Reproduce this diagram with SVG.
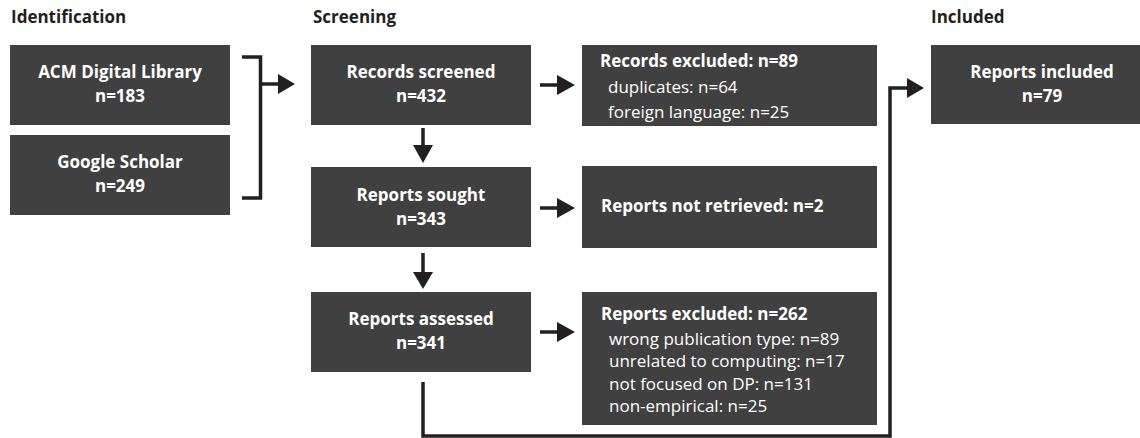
<svg xmlns="http://www.w3.org/2000/svg" width="1140" height="438" viewBox="0 0 1140 438">
<defs>
<style>
.box{fill:#404040}
.t{font-family:"Open Sans","Liberation Sans",sans-serif;font-size:17px;fill:#ffffff}
.b{font-weight:bold}
.c{text-anchor:middle}
.h{font-family:"Open Sans","Liberation Sans",sans-serif;font-size:17px;font-weight:bold;fill:#231f20}
.ln{fill:none;stroke:#231f20;stroke-width:3.5}
.ah{fill:#231f20}
</style>
</defs>
<g id="headers">
<text class="h" x="11" y="23">Identification</text>
<text class="h" x="313" y="23">Screening</text>
<text class="h" x="931" y="23">Included</text>
</g>
<g id="acm">
<rect class="box" x="10" y="45" width="220" height="80"/>
<text class="t b c" x="120" y="78">ACM Digital Library</text>
<text class="t b c" x="120" y="102">n=183</text>
</g>
<g id="scholar">
<rect class="box" x="10" y="135" width="220" height="80"/>
<text class="t b c" x="120" y="168">Google Scholar</text>
<text class="t b c" x="120" y="192">n=249</text>
</g>
<g id="screened">
<rect class="box" x="311" y="45" width="220" height="80"/>
<text class="t b c" x="421" y="78">Records screened</text>
<text class="t b c" x="421" y="102">n=432</text>
</g>
<g id="sought">
<rect class="box" x="311" y="167" width="220" height="80"/>
<text class="t b c" x="421" y="201">Reports sought</text>
<text class="t b c" x="421" y="225">n=343</text>
</g>
<g id="assessed">
<rect class="box" x="311" y="292" width="220" height="80"/>
<text class="t b c" x="421" y="325">Reports assessed</text>
<text class="t b c" x="421" y="349">n=341</text>
</g>
<g id="rec-excluded">
<rect class="box" x="582" y="45" width="295" height="81"/>
<text class="t b" x="600" y="67">Records excluded: n=89</text>
<text class="t" x="608" y="93">duplicates: n=64</text>
<text class="t" x="608" y="118">foreign language: n=25</text>
</g>
<g id="not-retrieved">
<rect class="box" x="582" y="166" width="295" height="82"/>
<text class="t b" x="601" y="212">Reports not retrieved: n=2</text>
</g>
<g id="rep-excluded">
<rect class="box" x="582" y="292" width="295" height="133"/>
<text class="t b" x="601" y="320">Reports excluded: n=262</text>
<text class="t" x="609" y="345">wrong publication type: n=89</text>
<text class="t" x="609" y="367">unrelated to computing: n=17</text>
<text class="t" x="609" y="390">not focused on DP: n=131</text>
<text class="t" x="609" y="412">non-empirical: n=25</text>
</g>
<g id="included">
<rect class="box" x="931" y="45" width="222" height="79"/>
<text class="t b c" x="1042" y="78">Reports included</text>
<text class="t b c" x="1042" y="102">n=79</text>
</g>
<g id="connectors">
<path class="ln" d="M242,57 H260.5 V198 H242"/>
<path class="ln" d="M260.5,84 H280"/>
<polygon class="ah" points="278,74 295,84 278,94"/>
<path class="ln" d="M540,85 H559"/>
<polygon class="ah" points="557,75 575,85 557,95"/>
<path class="ln" d="M540,208 H559"/>
<polygon class="ah" points="557,198 575,208 557,218"/>
<path class="ln" d="M540,332 H559"/>
<polygon class="ah" points="557,322 575,332 557,342"/>
<path class="ln" d="M423,128 V147"/>
<polygon class="ah" points="413,145 433,145 423,163"/>
<path class="ln" d="M423,253 V274"/>
<polygon class="ah" points="413,272 433,272 423,289"/>
<path class="ln" d="M423,382 V436 H890 V88 H909"/>
<polygon class="ah" points="907,78 924,88 907,98"/>
</g>
</svg>
